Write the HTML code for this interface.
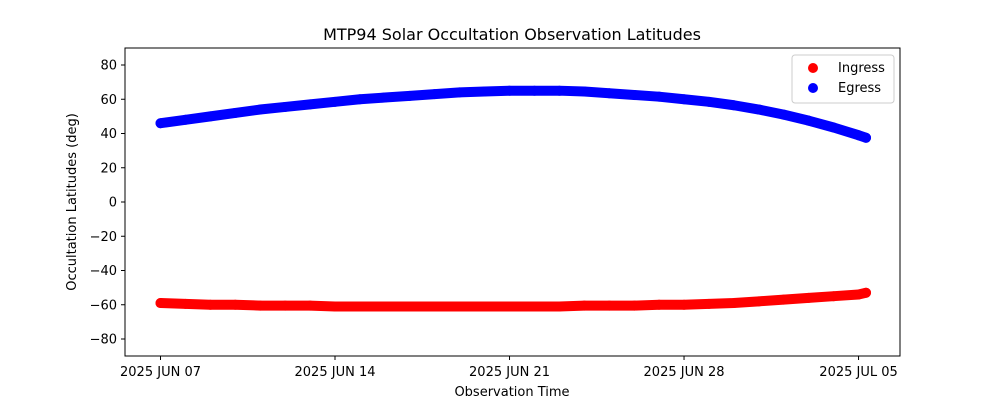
<!DOCTYPE html>
<html><head><meta charset="utf-8"><style>
body{margin:0;background:#fff;font-family:"Liberation Sans","DejaVu Sans",sans-serif;}
</style></head><body>
<svg id="chart" width="1000" height="400" viewBox="0 0 1000 400" font-family="DejaVu Sans, Liberation Sans, sans-serif">
<rect width="1000" height="400" fill="#fff"/>
<text x="512" y="40" font-size="16" text-anchor="middle">MTP94 Solar Occultation Observation Latitudes</text>
<g id="marks"></g>
<rect x="125" y="48" width="775" height="308" fill="none" stroke="#000" stroke-width="1"/>
<g id="axes" font-size="13"></g>
<text x="512" y="396" font-size="13" text-anchor="middle">Observation Time</text>
<text transform="translate(76,202) rotate(-90)" font-size="13" text-anchor="middle">Occultation Latitudes (deg)</text>
<g>
<rect x="792" y="55" width="102" height="48" fill="#fff" stroke="#ccc" rx="3"/>
<circle cx="813" cy="68" r="5" fill="red"/>
<text x="838" y="72" font-size="13">Ingress</text>
<circle cx="813" cy="88" r="5" fill="blue"/>
<text x="838" y="92" font-size="13">Egress</text>
</g>
</svg>
<script>
const days = [0,1,2,3,4,5,6,7,8,9,10,11,12,13,14,15,16,17,18,19,20,21,22,23,24,25,26,27,28,28.3];
const egress = [46,48,50,52,54,55.5,57,58.5,60,61,62,63,64,64.5,65,65,65,64.5,63.5,62.5,61.5,60,58.5,56.5,54,51,47.5,43.5,39,37.5];
const ingress = [-59,-59.5,-60,-60,-60.5,-60.5,-60.5,-61,-61,-61,-61,-61,-61,-61,-61,-61,-61,-60.5,-60.5,-60.5,-60,-60,-59.5,-59,-58,-57,-56,-55,-54,-53];
const yTicks = [80,60,40,20,0,-20,-40,-60,-80];
const xTickDays = [0,7,14,21,28];
const xTickLabels = ["2025 JUN 07","2025 JUN 14","2025 JUN 21","2025 JUN 28","2025 JUL 05"];
const xs = d => 160.5 + d*24.93;
const ys = v => 202 - v*1.7125;
const NS = "http://www.w3.org/2000/svg";
const marks = document.getElementById('marks');
const axes = document.getElementById('axes');
function mk(tag, attrs, parent){const e=document.createElementNS(NS,tag);for(const k in attrs)e.setAttribute(k,attrs[k]);parent.appendChild(e);return e;}
function series(vals, color, name){
  const g = mk('g',{},marks);
  
  
  const pts = days.map((d,i)=>xs(d)+','+ys(vals[i])).join(' ');
  const pl = mk('polyline',{points:pts,fill:'none',stroke:color,'stroke-width':10,'stroke-linecap':'round','stroke-linejoin':'round'},g);
  
  
  days.forEach((d,i)=>{
    const c = mk('circle',{cx:xs(d),cy:ys(vals[i]),r:5,fill:color},g);
    
    
  });
}
series(ingress,'red','ingress');
series(egress,'blue','egress');
yTicks.forEach(v=>{
  const y = ys(v);
  const l = mk('line',{x1:121,x2:125,y1:y,y2:y,stroke:'#000'},axes);
  
  
  const t = mk('text',{x:117,y:y+4.5,'text-anchor':'end'},axes);
  t.textContent = v<0 ? '\u2212'+Math.abs(v) : String(v);
  
  
});
xTickDays.forEach((d,i)=>{
  const x = xs(d);
  const l = mk('line',{x1:x,x2:x,y1:356,y2:360,stroke:'#000'},axes);
  
  
  const t = mk('text',{x:x,y:376,'text-anchor':'middle'},axes);
  t.textContent = xTickLabels[i];
  
  
});
</script>
</body></html>
